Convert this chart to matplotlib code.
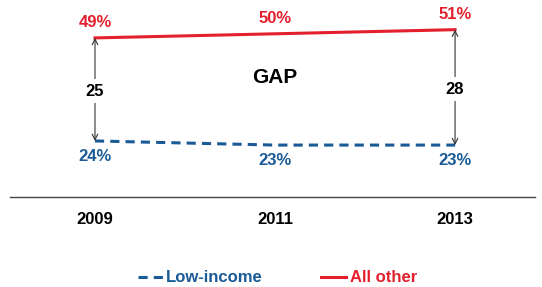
import matplotlib.pyplot as plt

years = ["2009", "2011", "2013"]
low_income = [24, 23, 23]
all_other = [49, 50, 51]
gaps = [25, 28]

red = "#E41F2D"
blue = "#1A5A96"

plt.rcParams["font.family"] = ["Liberation Sans", "DejaVu Sans"]

fig = plt.figure(figsize=(5.42, 2.87), dpi=100)
ax = fig.add_axes([10 / 542, 90 / 287, 525 / 542, 197 / 287])

x = list(range(len(years)))
ax.plot(x, low_income, color=blue, lw=2.2, ls=(0, (3, 2)), label="Low-income")
ax.plot(x, all_other, color=red, lw=2.2, label="All other")

for i in x:
    ax.annotate(f"{all_other[i]}%", (i, all_other[i]), xytext=(0, 11),
                textcoords="offset points", ha="center", va="center",
                color=red, fontsize=12, fontweight="bold")
    ax.annotate(f"{low_income[i]}%", (i, low_income[i]), xytext=(0, -11),
                textcoords="offset points", ha="center", va="center",
                color=blue, fontsize=12, fontweight="bold")

# gap arrows at first and last year
for i, g in zip([0, 2], gaps):
    ax.annotate("", xy=(i, low_income[i]), xytext=(i, all_other[i]),
                arrowprops=dict(arrowstyle="<->", color="#333333", lw=0.8,
                                shrinkA=0, shrinkB=0))
    mid = (low_income[i] + all_other[i]) / 2
    ax.text(i, mid - 0.4, str(g), ha="center", va="center", fontsize=12,
            fontweight="bold", color="black",
            bbox=dict(facecolor="white", edgecolor="none", pad=3))

ax.text(1, 39.5, "GAP", ha="center", va="center", fontsize=15,
        fontweight="bold", color="black")

ax.set_xlim(-0.472, 2.444)
ax.set_ylim(10.4, 58.2)
ax.set_xticks(x)
ax.set_xticklabels(years, fontsize=12, fontweight="bold")
ax.tick_params(axis="x", length=0, pad=11)
ax.set_yticks([])
for s in ["top", "left", "right"]:
    ax.spines[s].set_visible(False)
ax.spines["bottom"].set_color("#444444")
ax.spines["bottom"].set_linewidth(1)

leg = fig.legend(loc="center", bbox_to_anchor=(277.5 / 542, 1 - 278 / 287), ncol=2,
                 frameon=False, fontsize=12, handlelength=1.5,
                 handletextpad=0.2, columnspacing=3.5)
for t, c in zip(leg.get_texts(), [blue, red]):
    t.set_color(c)
    t.set_fontweight("bold")

fig.savefig("out.png", dpi=100)
